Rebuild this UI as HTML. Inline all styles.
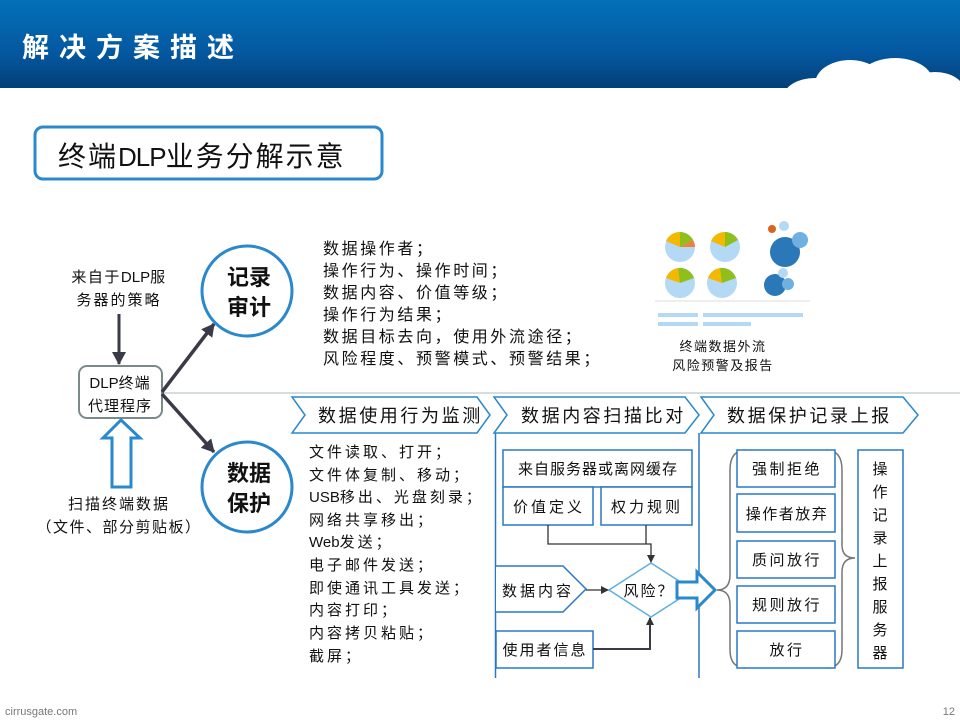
<!DOCTYPE html>
<html><head><meta charset="utf-8"><style>
html,body{margin:0;padding:0;background:#fff;}
svg{display:block;}
text{font-family:"Liberation Sans","Noto Sans CJK SC",sans-serif;fill:#111;}
</style></head><body>
<svg width="960" height="720" viewBox="0 0 960 720" xmlns="http://www.w3.org/2000/svg">
<defs>
<linearGradient id="hg" x1="0" y1="0" x2="0" y2="1">
<stop offset="0" stop-color="#0370b8"/><stop offset="0.6" stop-color="#0458a0"/><stop offset="1" stop-color="#033f78"/></linearGradient>
<marker id="ah" markerWidth="8" markerHeight="8" refX="7" refY="4" orient="auto" markerUnits="userSpaceOnUse"><path d="M0,0 L8,4 L0,8 Z" fill="#333"/></marker>
<marker id="ahb" markerWidth="14" markerHeight="14" refX="12" refY="7" orient="auto" markerUnits="userSpaceOnUse"><path d="M0,0 L13,7 L0,14 Z" fill="#3a3a48"/></marker>
</defs>
<rect x="0" y="0" width="960" height="88" fill="url(#hg)"/>
<g fill="#fff">
<ellipse cx="815" cy="98" rx="32" ry="20"/>
<ellipse cx="850" cy="84" rx="35" ry="24"/>
<ellipse cx="895" cy="82" rx="38" ry="24"/>
<ellipse cx="935" cy="92" rx="30" ry="20"/>
<rect x="785" y="92" width="175" height="26"/>
</g>
<text x="22" y="57" font-size="27" font-weight="bold" style="fill:#fff" letter-spacing="10">解决方案描述</text>

<rect x="35" y="127" width="347" height="52" rx="8" fill="#fff" stroke="#2a88cc" stroke-width="3"/>
<text x="58" y="166" font-size="28" letter-spacing="2">终端<tspan letter-spacing="-1" font-size="26">DLP</tspan>业务分解示意</text>

<text x="119" y="282" font-size="15" text-anchor="middle" letter-spacing="1.5">来自于<tspan letter-spacing="0">DLP</tspan>服</text>
<text x="119" y="305" font-size="15" text-anchor="middle" letter-spacing="2">务器的策略</text>
<line x1="119" y1="314" x2="119" y2="364" stroke="#3a3a48" stroke-width="3" marker-end="url(#ahb)"/>

<line x1="162" y1="393" x2="960" y2="393" stroke="#c8d0d6" stroke-width="1.5"/>
<rect x="79" y="366" width="83" height="52" rx="8" fill="#fff" stroke="#7a8a8a" stroke-width="2"/>
<text x="120" y="388" font-size="15" text-anchor="middle"><tspan letter-spacing="0">DLP</tspan><tspan letter-spacing="1">终端</tspan></text>
<text x="120" y="411" font-size="15" text-anchor="middle" letter-spacing="1">代理程序</text>

<path d="M121,420 L140,438 L131,438 L131,487 L112,487 L112,438 L103,438 Z" fill="#fff" stroke="#2a88cc" stroke-width="3"/>
<text x="119" y="509" font-size="15" text-anchor="middle" letter-spacing="2">扫描终端数据</text>
<text x="119" y="532" font-size="15" text-anchor="middle" letter-spacing="1.5">（文件、部分剪贴板）</text>

<line x1="162" y1="392" x2="214" y2="324" stroke="#3a3a48" stroke-width="3.5" marker-end="url(#ahb)"/>
<line x1="162" y1="394" x2="214" y2="452" stroke="#3a3a48" stroke-width="3.5" marker-end="url(#ahb)"/>

<circle cx="247" cy="291" r="45" fill="#fff" stroke="#2a88cc" stroke-width="3"/>
<text x="249" y="285" font-size="22" font-weight="bold" text-anchor="middle">记录</text>
<text x="249" y="315" font-size="22" font-weight="bold" text-anchor="middle">审计</text>
<circle cx="247" cy="487" r="45" fill="#fff" stroke="#2a88cc" stroke-width="3"/>
<text x="249" y="481" font-size="22" font-weight="bold" text-anchor="middle">数据</text>
<text x="249" y="511" font-size="22" font-weight="bold" text-anchor="middle">保护</text>

<g font-size="16" letter-spacing="2.6">
<text x="323" y="254">数据操作者；</text>
<text x="323" y="276">操作行为、操作时间；</text>
<text x="323" y="298">数据内容、价值等级；</text>
<text x="323" y="320">操作行为结果；</text>
<text x="323" y="342">数据目标去向，使用外流途径；</text>
<text x="323" y="364">风险程度、预警模式、预警结果；</text>
</g>

<g>
<circle cx="680" cy="247" r="15" fill="#b3d9f5"/>
<path d="M680,247 L666,241 A15,15 0 0 1 680,232 Z" fill="#f5b800"/>
<path d="M680,247 L680,232 A15,15 0 0 1 693,240 Z" fill="#8fbf1a"/>
<path d="M680,247 L693,240 A15,15 0 0 1 695,247 Z" fill="#f08040"/>
<circle cx="725" cy="247" r="15" fill="#b3d9f5"/>
<path d="M725,247 L711,241 A15,15 0 0 1 725,232 Z" fill="#f5b800"/>
<path d="M725,247 L725,232 A15,15 0 0 1 738,240 Z" fill="#8fbf1a"/>
<circle cx="785" cy="252" r="15" fill="#2a78b8"/>
<circle cx="800" cy="240" r="8" fill="#70b0e0"/>
<circle cx="784" cy="226" r="5" fill="#b3d9f5"/>
<circle cx="772" cy="229" r="4" fill="#e06020"/>
<circle cx="680" cy="283" r="15" fill="#b3d9f5"/>
<path d="M680,283 L666,278 A15,15 0 0 1 678,268 Z" fill="#f5b800"/>
<path d="M680,283 L678,268 A15,15 0 0 1 694,278 Z" fill="#8fbf1a"/>
<circle cx="722" cy="283" r="15" fill="#b3d9f5"/>
<path d="M722,283 L708,278 A15,15 0 0 1 720,268 Z" fill="#f5b800"/>
<path d="M722,283 L720,268 A15,15 0 0 1 736,278 Z" fill="#8fbf1a"/>
<circle cx="775" cy="285" r="11" fill="#2a78b8"/>
<circle cx="788" cy="284" r="6" fill="#70b0e0"/>
<circle cx="783" cy="273" r="5" fill="#b3d9f5"/>
<line x1="655" y1="301" x2="810" y2="301" stroke="#ddd"/>
<rect x="658" y="313" width="40" height="4" fill="#b3d9f5"/>
<rect x="703" y="313" width="100" height="4" fill="#b3d9f5"/>
<rect x="658" y="322" width="40" height="4" fill="#b3d9f5"/>
<rect x="703" y="322" width="48" height="4" fill="#b3d9f5"/>
</g>
<text x="723" y="351" font-size="13" text-anchor="middle" letter-spacing="1.5">终端数据外流</text>
<text x="723" y="370" font-size="13" text-anchor="middle" letter-spacing="1.5">风险预警及报告</text>

<g fill="#fff" stroke="#2a88cc" stroke-width="1.5">
<path d="M292,397 L477,397 L490,415 L477,433 L292,433 L305,415 Z"/>
<path d="M494,397 L685,397 L699,415 L685,433 L494,433 L507,415 Z"/>
<path d="M701,397 L903,397 L918,415 L903,433 L701,433 L714,415 Z"/>
</g>
<g font-size="18" letter-spacing="2.6">
<text x="318" y="422">数据使用行为监测</text>
<text x="521" y="422">数据内容扫描比对</text>
<text x="727" y="422">数据保护记录上报</text>
</g>

<g font-size="15" letter-spacing="3">
<text x="309" y="457">文件读取、打开；</text>
<text x="309" y="480">文件体复制、移动；</text>
<text x="309" y="502"><tspan letter-spacing="0">USB</tspan>移出、光盘刻录；</text>
<text x="309" y="525">网络共享移出；</text>
<text x="309" y="547"><tspan letter-spacing="0">Web</tspan>发送；</text>
<text x="309" y="570">电子邮件发送；</text>
<text x="309" y="593">即使通讯工具发送；</text>
<text x="309" y="615">内容打印；</text>
<text x="309" y="638">内容拷贝粘贴；</text>
<text x="309" y="661">截屏；</text>
</g>

<line x1="495.5" y1="433" x2="495.5" y2="678" stroke="#2a78c8" stroke-width="1.5"/>
<line x1="699" y1="433" x2="699" y2="678" stroke="#2a78c8" stroke-width="1.5"/>

<g fill="#fff" stroke="#2a78c8" stroke-width="1.5">
<rect x="503" y="450" width="189" height="37"/>
<rect x="503" y="487" width="90" height="38"/>
<rect x="601" y="487" width="91" height="38"/>
<path d="M496,566 L563,566 L586,589 L563,612 L496,612"/>
<rect x="496" y="631" width="97" height="37"/>
<path d="M651,563 L693,590 L651,617 L609,590 Z" stroke="#5aaee0"/>
</g>
<g font-size="15" letter-spacing="2">
<text x="598" y="474" text-anchor="middle" letter-spacing="1">来自服务器或离网缓存</text>
<text x="549" y="512" text-anchor="middle" letter-spacing="3">价值定义</text>
<text x="647" y="512" text-anchor="middle" letter-spacing="3">权力规则</text>
<text x="538" y="596" text-anchor="middle" letter-spacing="3">数据内容</text>
<text x="545" y="655" text-anchor="middle">使用者信息</text>
<text x="649" y="596" text-anchor="middle">风险？</text>
</g>
<polyline points="548,525 548,544 651,544 651,562" fill="none" stroke="#333" stroke-width="1.3" marker-end="url(#ah)"/>
<line x1="646" y1="525" x2="646" y2="544" stroke="#333" stroke-width="1.3"/>
<line x1="586" y1="590" x2="608" y2="590" stroke="#333" stroke-width="1.3" marker-end="url(#ah)"/>
<polyline points="593,649 650,649 650,618" fill="none" stroke="#3a3a48" stroke-width="2" marker-end="url(#ah)"/>

<path d="M677,582 L697,582 L697,572 L715,590 L697,608 L697,598 L677,598 Z" fill="#fff" stroke="#2a88cc" stroke-width="3"/>

<path d="M746,450 Q730,450 730,470 L730,575 Q730,590 717,590 Q730,590 730,605 L730,650 Q730,668 746,668" fill="none" stroke="#777" stroke-width="1.5"/>
<path d="M826,450 Q842,450 842,470 L842,545 Q842,558 855,558 Q842,558 842,572 L842,650 Q842,668 826,668" fill="none" stroke="#777" stroke-width="1.5"/>
<g fill="#fff" stroke="#2a78c8" stroke-width="1.5">
<rect x="737" y="450" width="98" height="37"/>
<rect x="737" y="494" width="98" height="38"/>
<rect x="737" y="541" width="98" height="37"/>
<rect x="737" y="586" width="98" height="37"/>
<rect x="737" y="631" width="98" height="37"/>
<rect x="858" y="450" width="45" height="218"/>
</g>
<g font-size="15" text-anchor="middle" letter-spacing="2.5">
<text x="787" y="474">强制拒绝</text>
<text x="787" y="519" letter-spacing="1.5">操作者放弃</text>
<text x="787" y="565">质问放行</text>
<text x="787" y="610">规则放行</text>
<text x="787" y="655">放行</text>
</g>
<g font-size="15" text-anchor="middle">
<text x="880" y="474">操</text><text x="880" y="497">作</text><text x="880" y="520">记</text><text x="880" y="543">录</text><text x="880" y="566">上</text><text x="880" y="589">报</text><text x="880" y="612">服</text><text x="880" y="635">务</text><text x="880" y="658">器</text>
</g>

<text x="5" y="715" font-size="11" style="fill:#777">cirrusgate.com</text>
<text x="955" y="715" font-size="11" text-anchor="end" style="fill:#777">12</text>
</svg>
</body></html>
